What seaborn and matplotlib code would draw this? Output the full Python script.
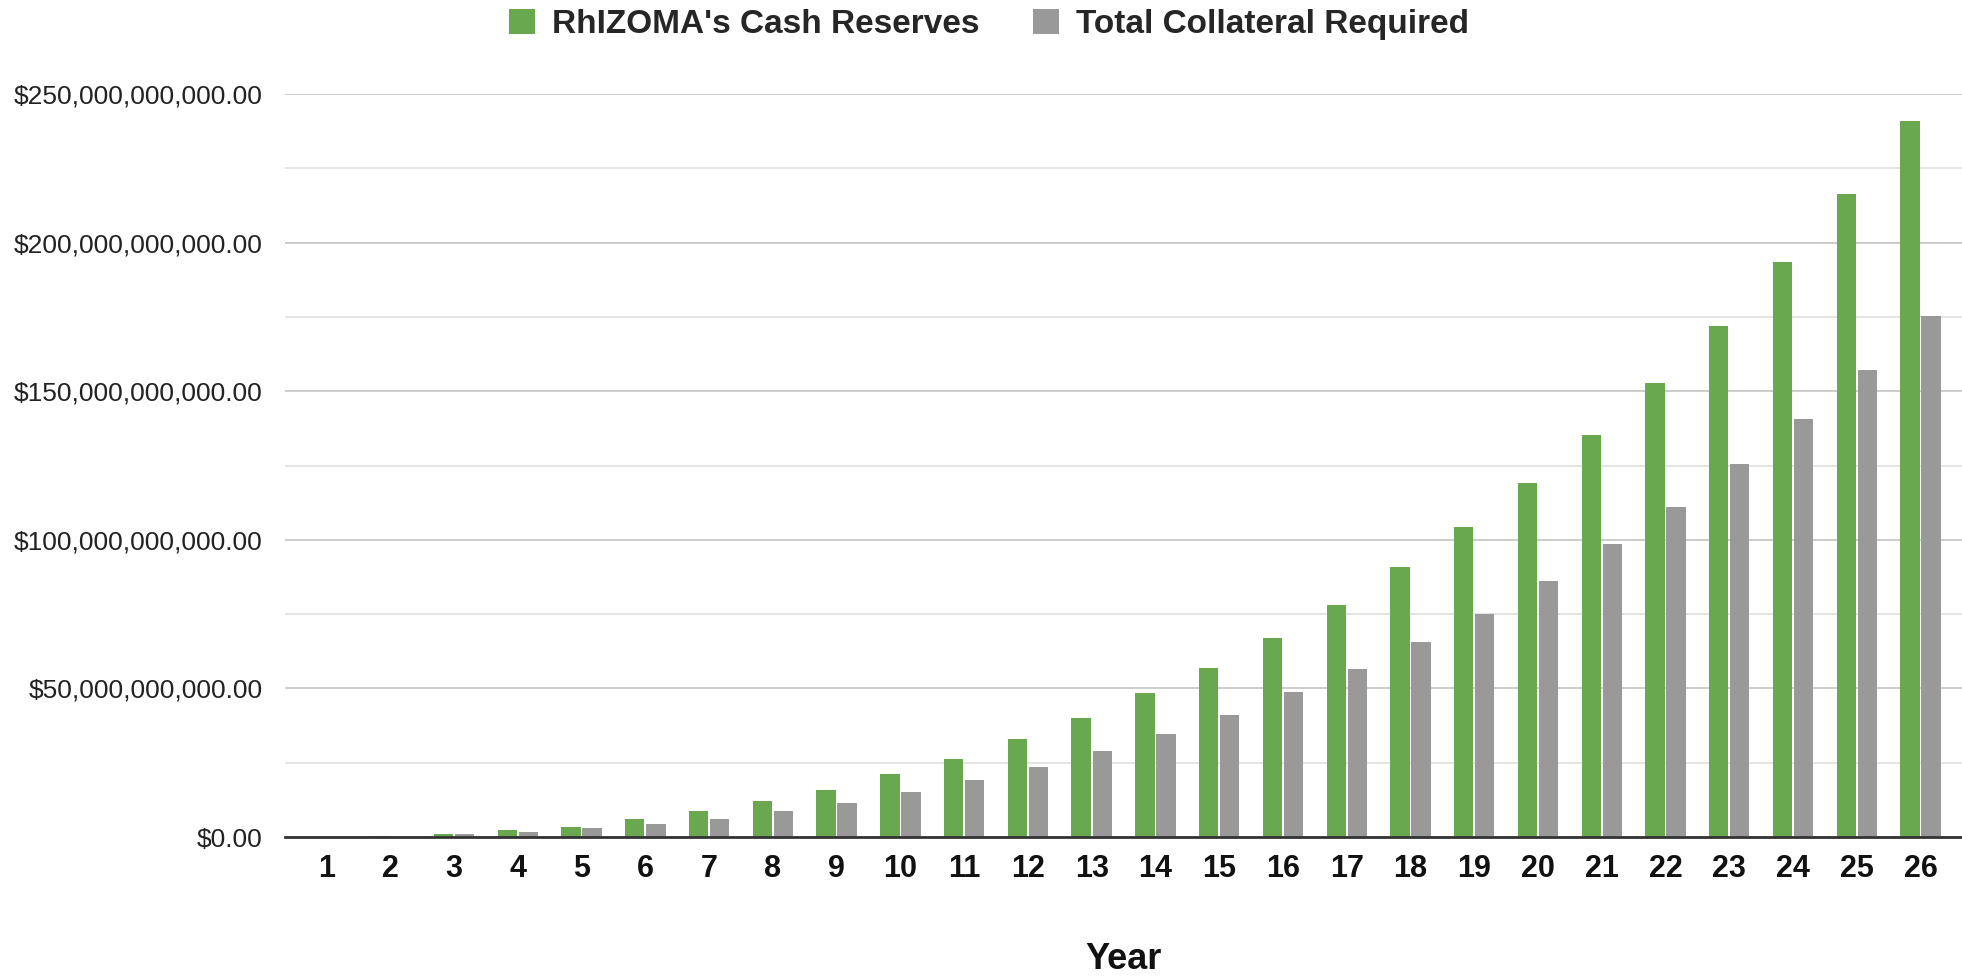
import matplotlib
matplotlib.use("Agg")
import matplotlib.pyplot as plt
import seaborn as sns
import pandas as pd
import numpy as np
from matplotlib.ticker import FuncFormatter, MultipleLocator

years = [str(i) for i in range(1, 27)]
cash_reserves_b = [0.05, 0.2, 0.85, 2.2, 3.5, 6.0, 8.7, 12.1, 15.9, 21.1, 26.4, 33.0, 40.1,
                   48.6, 57.0, 67.0, 77.9, 90.8, 104.2, 119.2, 135.2, 152.6, 172.1, 193.5,
                   216.3, 240.8]
collateral_b = [0.03, 0.1, 0.85, 1.6, 3.0, 4.3, 6.1, 8.8, 11.4, 15.2, 19.1, 23.7, 28.9,
                34.8, 41.2, 48.7, 56.4, 65.5, 75.2, 86.2, 98.5, 111.2, 125.5, 140.6,
                157.3, 175.4]
series_names = ["RhIZOMA's Cash Reserves", "Total Collateral Required"]
colors = ["#6aa84f", "#999999"]

df = pd.DataFrame({
    "Year": years * 2,
    "Value": [v * 1e9 for v in cash_reserves_b] + [v * 1e9 for v in collateral_b],
    "Series": [series_names[0]] * len(years) + [series_names[1]] * len(years),
})

sns.set_theme(style="white")
plt.rcParams["font.family"] = ["Liberation Sans", "DejaVu Sans"]

fig = plt.figure(figsize=(19.62, 9.76), dpi=100)
ax = fig.add_axes([0.1453, 0.1424, 0.8547, 0.7613])

sns.barplot(data=df, x="Year", y="Value", hue="Series", hue_order=series_names,
            palette=colors, width=0.66, gap=0.08, ax=ax, saturation=1, linewidth=0)

ax.set_ylim(0, 250e9)
ax.set_xlim(-0.65, 25.65)
ax.yaxis.set_major_locator(MultipleLocator(50e9))
ax.yaxis.set_minor_locator(MultipleLocator(25e9))
ax.yaxis.set_major_formatter(FuncFormatter(lambda v, p: "${:,.2f}".format(v)))
ax.grid(axis="y", which="major", color="#c8c8c8", linewidth=1.3)
ax.grid(axis="y", which="minor", color="#e2e2e2", linewidth=1.3)
ax.set_axisbelow(True)
for s in ["top", "right", "left"]:
    ax.spines[s].set_visible(False)
ax.spines["bottom"].set_color("#333333")
ax.spines["bottom"].set_linewidth(2)
ax.tick_params(axis="y", which="both", length=0, labelsize=19, pad=16, labelcolor="#222222")
ax.tick_params(axis="x", length=0, labelsize=22, pad=12, labelcolor="#111111")
for lbl in ax.get_xticklabels():
    lbl.set_fontweight("bold")
ax.set_ylabel("")
ax.set_xlabel("Year", fontsize=26, fontweight="bold", labelpad=42, color="#111111")

handles, labels = ax.get_legend_handles_labels()
ax.get_legend().remove()
fig.legend(handles, labels, loc="upper center", bbox_to_anchor=(0.504, 1.022), ncol=2,
           frameon=False, prop={"size": 24, "weight": "bold"}, handlelength=0.8,
           handleheight=0.8, handletextpad=0.5, columnspacing=1.6)

fig.savefig("out.png", dpi=100)
